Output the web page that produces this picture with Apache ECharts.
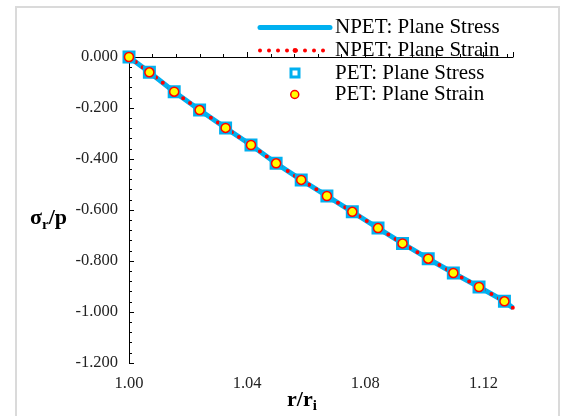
<!DOCTYPE html>
<html>
<head>
<meta charset="utf-8">
<script src="https://cdn.jsdelivr.net/npm/echarts@6/dist/echarts.min.js"></script>
<style>
html,body{margin:0;padding:0;background:#fff;}
#chart{width:561px;height:416px;}
</style>
</head>
<body>
<div id="chart"></div>
<script>
// PET (discrete points)
var petR = [1.000, 1.0069, 1.0153, 1.0239, 1.0327, 1.0413, 1.0498, 1.0583, 1.0670, 1.0756, 1.0843, 1.0926, 1.1013, 1.1098, 1.1185, 1.1271];
var petSigma = [0.000, -0.060, -0.136, -0.208, -0.278, -0.345, -0.417, -0.482, -0.545, -0.607, -0.671, -0.731, -0.791, -0.847, -0.902, -0.958];
// NPET (continuous curve)
var npetR = [1.000, 1.0069, 1.0153, 1.0239, 1.0327, 1.0413, 1.0498, 1.0583, 1.0670, 1.0756, 1.0843, 1.0926, 1.1013, 1.1098, 1.1185, 1.1271, 1.1300];
var npetSigma = [0.000, -0.060, -0.136, -0.208, -0.278, -0.345, -0.417, -0.482, -0.545, -0.607, -0.671, -0.731, -0.791, -0.847, -0.902, -0.958, -0.984];
var seriesNames = ['NPET: Plane Stress', 'NPET: Plane Strain', 'PET: Plane Stress', 'PET: Plane Strain'];
var xTicks = [1.00, 1.04, 1.08, 1.12];
var yTicks = [0.000, -0.200, -0.400, -0.600, -0.800, -1.000, -1.200];

function zip(a, b) { return a.map(function (v, i) { return [v, b[i]]; }); }

var BLUE = '#00B0F0', RED = '#FF0000', YEL = '#FFFF00';
var SERIF = '"Liberation Serif", "Times New Roman", serif';
var chart = echarts.init(document.getElementById('chart'), null, {renderer: 'canvas'});

var legendText = {fontFamily: SERIF, fontSize: 21, color: '#000'};
function lg(name, left, top, extra) {
  var o = {
    data: [name], left: left, top: top, padding: 0, itemWidth: 70,
    textStyle: legendText, selectedMode: false, symbolKeepAspect: true
  };
  for (var k in extra) o[k] = extra[k];
  return o;
}

chart.setOption({
  animation: false,
  backgroundColor: '#fff',
  graphic: [{
    type: 'rect', shape: {x: 16, y: 7, width: 543, height: 440},
    style: {fill: 'none', stroke: '#DADADA', lineWidth: 2}, silent: true, z: -10
  }],
  grid: {left: 129, right: 48, top: 57, bottom: 53, containLabel: false, outerBoundsMode: 'none'},
  legend: [
    lg(seriesNames[0], 257.5, 17, {itemHeight: 6, lineStyle: {color: BLUE, width: 5, cap: 'round'}}),
    lg(seriesNames[1], 258, 40, {itemHeight: 6, lineStyle: {color: RED, width: 4, type: [0, 9], cap: 'round'}}),
    lg(seriesNames[2], 289.5, 62.5, {itemHeight: 8, icon: 'path://M0,0L10,0L10,10L0,10Z',
      itemStyle: {color: '#fff', borderColor: BLUE, borderWidth: 3}}),
    lg(seriesNames[3], 290, 84, {itemHeight: 8, icon: 'circle',
      itemStyle: {color: YEL, borderColor: RED, borderWidth: 1.5}})
  ],
  xAxis: {
    type: 'value', min: 1.00, max: 1.13, interval: 0.04,
    name: '{b|r/r}{s|i}',
    nameLocation: 'middle', nameGap: 26, nameMoveOverlap: false,
    nameTextStyle: {
      padding: [0, 38, 0, 0],
      rich: {
        b: {fontFamily: SERIF, fontSize: 22, fontWeight: 'bold', color: '#000', verticalAlign: 'top'},
        s: {fontFamily: SERIF, fontSize: 15, fontWeight: 'bold', color: '#000', verticalAlign: 'top', padding: [10, 0, 0, 0]}
      }
    },
    axisLine: {show: true, lineStyle: {color: '#000', width: 1}},
    axisTick: {show: true, inside: true, length: 5, lineStyle: {color: '#000'}},
    minorTick: {show: true, splitNumber: 5, length: 3, lineStyle: {color: '#000'}},
    splitLine: {show: false},
    axisLabel: {
      margin: 12, fontFamily: SERIF, fontSize: 16.5, color: '#222',
      showMaxLabel: false,
      formatter: function (v) {
        for (var i = 0; i < xTicks.length; i++) if (Math.abs(v - xTicks[i]) < 1e-9) return xTicks[i].toFixed(2);
        return '';
      }
    }
  },
  yAxis: {
    type: 'value', min: -1.2, max: 0, interval: 0.2,
    name: '{b|σ}{s|r}{b|/p}',
    nameLocation: 'middle', nameRotate: 0, nameGap: 62, nameMoveOverlap: false,
    nameTextStyle: {
      padding: [20, 0, 0, 0],
      rich: {
        b: {fontFamily: SERIF, fontSize: 22, fontWeight: 'bold', color: '#000', verticalAlign: 'top'},
        s: {fontFamily: SERIF, fontSize: 15, fontWeight: 'bold', color: '#000', verticalAlign: 'top', padding: [10, 0, 0, 0]}
      }
    },
    axisLine: {show: true, lineStyle: {color: '#000', width: 1}},
    axisTick: {show: true, inside: true, length: 5, lineStyle: {color: '#000'}},
    minorTick: {show: true, splitNumber: 5, length: 3, lineStyle: {color: '#000'}},
    splitLine: {show: false},
    axisLabel: {
      margin: 11, fontFamily: SERIF, fontSize: 16.5, color: '#222',
      formatter: function (v) {
        for (var i = 0; i < yTicks.length; i++) if (Math.abs(v - yTicks[i]) < 1e-9) return yTicks[i].toFixed(3);
        return '';
      }
    }
  },
  series: [
    {
      name: seriesNames[0], type: 'line', data: zip(npetR, npetSigma), symbol: 'none',
      lineStyle: {color: BLUE, width: 5}, itemStyle: {color: BLUE}, z: 1, clip: true
    },
    {
      name: seriesNames[1], type: 'line', data: zip(npetR, npetSigma), symbol: 'none',
      lineStyle: {color: RED, width: 4, type: [0, 8.5], cap: 'round'}, itemStyle: {color: RED}, z: 2, clip: true
    },
    {
      name: seriesNames[2], type: 'scatter', data: zip(petR, petSigma), symbol: 'rect', symbolSize: 10,
      itemStyle: {color: '#fff', borderColor: BLUE, borderWidth: 3, opacity: 1}, z: 3, clip: false
    },
    {
      name: seriesNames[3], type: 'scatter', data: zip(petR, petSigma), symbol: 'circle', symbolSize: 9,
      itemStyle: {color: YEL, borderColor: RED, borderWidth: 1.5, opacity: 1}, z: 4, clip: false
    }
  ]
});
</script>
</body>
</html>
